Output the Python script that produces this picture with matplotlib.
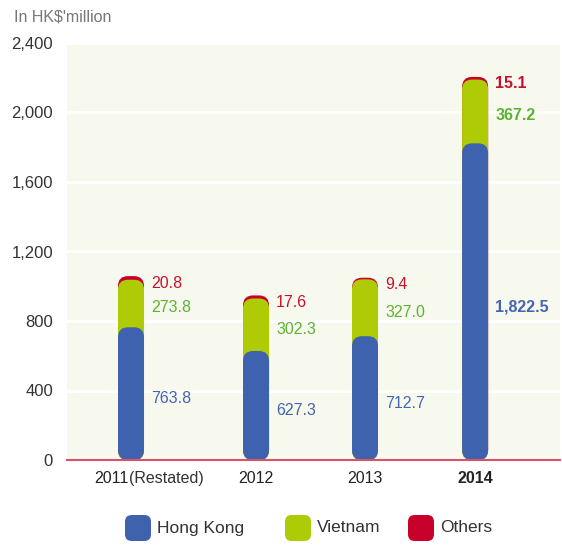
import matplotlib.pyplot as plt
from matplotlib.patches import FancyBboxPatch

plt.rcParams['font.family'] = ['Liberation Sans', 'DejaVu Sans']

# data
years = ['2011', '2012', '2013', '2014']
year_notes = ['(Restated)', '', '', '']
hong_kong = [763.8, 627.3, 712.7, 1822.5]
vietnam = [273.8, 302.3, 327.0, 367.2]
others = [20.8, 17.6, 9.4, 15.1]
yticks = [0, 400, 800, 1200, 1600, 2000, 2400]

# bar slots (uneven like the original artwork)
xpos = [0, 1.09, 2.04, 3.0]

c_blue = '#3E62AE'
c_green = '#AECB05'
c_red = '#C8002C'
t_blue = '#4466B0'
t_green = '#5DB233'
t_red = '#C8102E'
bg = '#F8F9EE'

fig = plt.figure(figsize=(5.62, 5.6), dpi=100)
ax = fig.add_axes([67 / 562, 100 / 560, 493 / 562, 417 / 560])
ax.set_facecolor(bg)

xmin, xmax = -0.558, 3.74
ymin, ymax = 0, 2400
ax.set_xlim(xmin, xmax)
ax.set_ylim(ymin, ymax)

# pixel -> data scale factors for rounded corners
px_x = (xmax - xmin) / 493
px_y = (ymax - ymin) / 417
bar_w = 26 * px_x
rad = 10 * px_x
aspect = px_y / px_x


def pill(x, top, color, z):
    p = FancyBboxPatch((x - bar_w / 2, 0), bar_w, top,
                       boxstyle=f'round,pad=0,rounding_size={rad}',
                       mutation_aspect=aspect, fc=color, ec='none', zorder=z)
    ax.add_patch(p)


for i in range(len(years)):
    x = xpos[i]
    hk = hong_kong[i]
    vn = hk + vietnam[i]
    tot = vn + others[i]
    pill(x, tot, c_red, 3)
    pill(x, vn, c_green, 4)
    pill(x, hk, c_blue, 5)

    weight = 'bold' if i == len(years) - 1 else 'normal'
    tx = x + bar_w / 2 + 7 * px_x
    ax.text(tx, tot - 40, f'{others[i]:,.1f}', color=t_red, fontsize=11.5,
            va='center', ha='left', fontweight=weight)
    ax.text(tx, hk + vietnam[i] / 2 - 25, f'{vietnam[i]:,.1f}', color=t_green,
            fontsize=11.5, va='center', ha='left', fontweight=weight)
    ax.text(tx, hk / 2 - 30, f'{hk:,.1f}', color=t_blue, fontsize=11.5,
            va='center', ha='left', fontweight=weight)

# grid
for t in yticks[1:]:
    ax.axhline(t, color='white', lw=2, zorder=1)

ax.set_yticks(yticks)
ax.set_yticklabels([f'{t:,}' for t in yticks], fontsize=12, color='#333333')
ax.tick_params(axis='y', length=0, pad=10)
ax.set_xticks([])

for s in ['top', 'right', 'left']:
    ax.spines[s].set_visible(False)
ax.spines['bottom'].set_color('#D9536A')
ax.spines['bottom'].set_linewidth(1.5)
ax.spines['bottom'].set_zorder(6)

# x labels
for i, (y, n) in enumerate(zip(years, year_notes)):
    x = xpos[i]
    weight = 'bold' if i == len(years) - 1 else 'normal'
    if n:
        ax.text(x - 0.02, -105, y, ha='right', va='center', fontsize=11.5,
                color='#222222', fontweight=weight)
        ax.text(x - 0.02, -105, n, ha='left', va='center', fontsize=11.5,
                color='#333333')
    else:
        ax.text(x, -105, y, ha='center', va='center', fontsize=11.5,
                color='#222222', fontweight=weight)

fig.text(14 / 562, 1 - 17 / 560, "In HK$'million", fontsize=11.5, color='#777777',
         ha='left', va='center')

# legend
leg_items = [('Hong Kong', c_blue, 125), ('Vietnam', c_green, 285), ('Others', c_red, 408)]
for label, col, lx in leg_items:
    box = FancyBboxPatch((lx / 562, 1 - 541 / 560), 26 / 562, 26 / 560,
                         boxstyle='round,pad=0,rounding_size=0.012',
                         transform=fig.transFigure, fc=col, ec='none')
    fig.patches.append(box)
    fig.text((lx + 32) / 562, 1 - 528 / 560, label, fontsize=12.5,
             color='#333333', ha='left', va='center')

fig.savefig('out.png', dpi=100)
